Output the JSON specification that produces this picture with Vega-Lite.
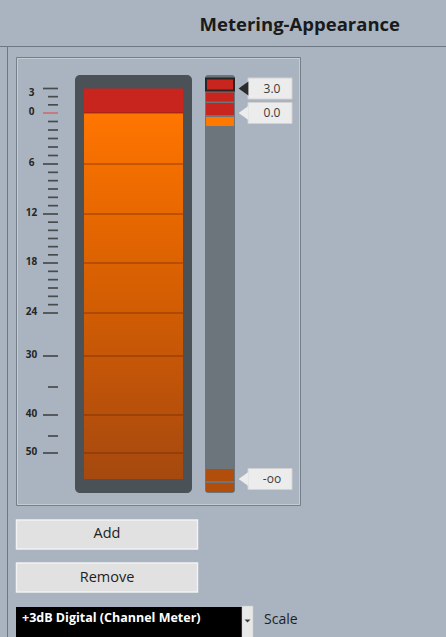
{
  "$schema": "https://vega.github.io/schema/vega-lite/v6.json",
  "width": 446,
  "height": 591,
  "autosize": "none",
  "padding": {"left": 0, "top": 46, "right": 0, "bottom": 0},
  "background": "#a9b4c0",
  "title": {"text": "Metering-Appearance", "anchor": "end", "frame": "group", "dx": -46, "dy": 19, "offset": 15, "baseline": "alphabetic", "font": "Open Sans", "fontSize": 18.5, "fontWeight": "bold", "color": "#1a1a1a"},
  "config": {"view": {"stroke": null}},
  "datasets": {
    "widgets": [
      {"widget": "header"}, {"widget": "window"}, {"widget": "panel"}, {"widget": "meter"}, {"widget": "strip"},
      {"widget": "button", "label": "Add"}, {"widget": "button", "label": "Remove"},
      {"widget": "combo", "label": "+3dB Digital (Channel Meter)"}, {"widget": "dropdown"}, {"widget": "caption", "label": "Scale"}
    ],
    "scale": [
      {"db": 3, "kind": "major", "label": "3"}, {"db": 2, "kind": "minor"}, {"db": 1, "kind": "minor"},
      {"db": 0, "kind": "major", "label": "0"},
      {"db": -1, "kind": "minor"}, {"db": -2, "kind": "minor"}, {"db": -3, "kind": "minor"}, {"db": -4, "kind": "minor"}, {"db": -5, "kind": "minor"},
      {"db": -6, "kind": "major", "label": "6"},
      {"db": -7, "kind": "minor"}, {"db": -8, "kind": "minor"}, {"db": -9, "kind": "minor"}, {"db": -10, "kind": "minor"}, {"db": -11, "kind": "minor"},
      {"db": -12, "kind": "major", "label": "12"},
      {"db": -13, "kind": "minor"}, {"db": -14, "kind": "minor"}, {"db": -15, "kind": "minor"}, {"db": -16, "kind": "minor"}, {"db": -17, "kind": "minor"},
      {"db": -18, "kind": "major", "label": "18"},
      {"db": -19, "kind": "minor"}, {"db": -20, "kind": "minor"}, {"db": -21, "kind": "minor"}, {"db": -22, "kind": "minor"}, {"db": -23, "kind": "minor"},
      {"db": -24, "kind": "major", "label": "24"},
      {"db": -30, "kind": "major", "label": "30"},
      {"db": -35, "kind": "minor"},
      {"db": -40, "kind": "major", "label": "40"},
      {"db": -45, "kind": "minor"},
      {"db": -50, "kind": "major", "label": "50"}
    ],
    "zones": [
      {"zone": "clip", "top": 3, "bottom": 0},
      {"zone": "signal", "top": 0, "bottom": -60}
    ],
    "handles": [
      {"db": 3, "label": "3.0", "above": "clip", "below": "clip", "selected": true},
      {"db": 0, "label": "0.0", "above": "clip", "below": "signal", "selected": false},
      {"db": -60, "label": "-oo", "above": "floor", "below": "floor", "selected": false}
    ]
  },
  "resolve": {"scale": {"x": "independent", "y": "independent", "color": "independent"}},
  "layer": [
    {
      "data": {"name": "widgets"},
      "transform": [{"filter": "datum.widget === 'header'"}],
      "mark": {"type": "rule", "stroke": "#6d7884", "strokeWidth": 1},
      "encoding": {"y": {"field": "widget", "type": "nominal", "scale": {"type": "band", "domain": ["header"], "range": [0.5, 0.5]}, "axis": null}}
    },
    {
      "data": {"name": "widgets"},
      "transform": [{"filter": "datum.widget === 'window'"}],
      "mark": {"type": "rule", "stroke": "#6d7884", "strokeWidth": 1},
      "encoding": {"x": {"field": "widget", "type": "nominal", "scale": {"type": "band", "domain": ["window"], "range": [7.5, 7.5]}, "axis": null}}
    },
    {
      "data": {"name": "widgets"},
      "transform": [{"filter": "datum.widget === 'panel'"}],
      "mark": {"type": "rect", "filled": false, "stroke": "#747f8a", "strokeWidth": 1},
      "encoding": {
        "x": {"field": "widget", "type": "nominal", "scale": {"type": "band", "domain": ["panel"], "range": [16.5, 300.5], "paddingInner": 0, "paddingOuter": 0}, "axis": null},
        "y": {"field": "widget", "type": "nominal", "scale": {"type": "band", "domain": ["panel"], "range": [11.5, 459.5], "paddingInner": 0, "paddingOuter": 0}, "axis": null}
      }
    },
    {
      "data": {"name": "widgets"},
      "transform": [{"filter": "datum.widget === 'panel'"}],
      "mark": {"type": "rect", "filled": false, "stroke": "#c3cbd3", "strokeWidth": 1},
      "encoding": {
        "x": {"field": "widget", "type": "nominal", "scale": {"type": "band", "domain": ["panel"], "range": [17.5, 299.5], "paddingInner": 0, "paddingOuter": 0}, "axis": null},
        "y": {"field": "widget", "type": "nominal", "scale": {"type": "band", "domain": ["panel"], "range": [12.5, 458.5], "paddingInner": 0, "paddingOuter": 0}, "axis": null}
      }
    },
    {
      "data": {"name": "widgets"},
      "transform": [{"filter": "datum.widget === 'meter'"}],
      "mark": {"type": "rect", "fill": "#4a5157", "cornerRadius": 5},
      "encoding": {
        "x": {"field": "widget", "type": "nominal", "scale": {"type": "band", "domain": ["meter"], "range": [75, 192], "paddingInner": 0, "paddingOuter": 0}, "axis": null},
        "y": {"field": "widget", "type": "nominal", "scale": {"type": "band", "domain": ["meter"], "range": [29, 447], "paddingInner": 0, "paddingOuter": 0}, "axis": null}
      }
    },
    {
      "data": {"name": "widgets"},
      "transform": [{"filter": "datum.widget === 'strip'"}],
      "mark": {"type": "rect", "fill": "#6c757c", "cornerRadius": 3},
      "encoding": {
        "x": {"field": "widget", "type": "nominal", "scale": {"type": "band", "domain": ["strip"], "range": [205, 235], "paddingInner": 0, "paddingOuter": 0}, "axis": null},
        "y": {"field": "widget", "type": "nominal", "scale": {"type": "band", "domain": ["strip"], "range": [29, 447], "paddingInner": 0, "paddingOuter": 0}, "axis": null}
      }
    },
    {
      "data": {"name": "zones"},
      "transform": [{"filter": "datum.zone === 'clip'"}],
      "mark": {"type": "rect", "fill": "#c9251f"},
      "encoding": {
        "x": {"datum": "meter", "type": "nominal", "scale": {"type": "band", "domain": ["meter"], "range": [84, 183], "paddingInner": 0, "paddingOuter": 0}, "axis": null},
        "y": {"field": "top", "type": "quantitative", "scale": {"type": "linear", "domain": [3, 0, -6, -12, -18, -24, -30, -35, -40, -45, -50, -60], "range": [42.5, 67, 118, 168, 217, 267, 310, 341, 369, 390, 407, 433], "nice": false, "zero": false}, "axis": null},
        "y2": {"field": "bottom"}
      }
    },
    {
      "data": {"name": "zones"},
      "transform": [{"filter": "datum.zone === 'signal'"}],
      "mark": {"type": "rect", "fill": {"gradient": "linear", "x1": 0, "y1": 0, "x2": 0, "y2": 1, "stops": [{"offset": 0, "color": "#ff7500"}, {"offset": 0.25, "color": "#ea6900"}, {"offset": 0.5, "color": "#d45e03"}, {"offset": 0.75, "color": "#be5309"}, {"offset": 1, "color": "#a5490f"}]}},
      "encoding": {
        "x": {"datum": "meter", "type": "nominal", "scale": {"type": "band", "domain": ["meter"], "range": [84, 183], "paddingInner": 0, "paddingOuter": 0}, "axis": null},
        "y": {"field": "top", "type": "quantitative", "scale": {"type": "linear", "domain": [3, 0, -6, -12, -18, -24, -30, -35, -40, -45, -50, -60], "range": [42.5, 67, 118, 168, 217, 267, 310, 341, 369, 390, 407, 433], "nice": false, "zero": false}, "axis": null},
        "y2": {"field": "bottom"}
      }
    },
    {
      "data": {"name": "scale"},
      "transform": [{"filter": "datum.kind === 'major' && datum.db <= 0"}],
      "mark": {"type": "tick", "orient": "horizontal", "size": 99, "thickness": 1.5, "color": "#6a2400", "opacity": 0.45},
      "encoding": {
        "x": {"datum": "meter", "type": "nominal", "scale": {"type": "band", "domain": ["meter"], "range": [84, 183], "paddingInner": 0, "paddingOuter": 0}, "axis": null},
        "y": {"field": "db", "type": "quantitative", "scale": {"type": "linear", "domain": [3, 0, -6, -12, -18, -24, -30, -35, -40, -45, -50, -60], "range": [42.5, 67, 118, 168, 217, 267, 310, 341, 369, 390, 407, 433], "nice": false, "zero": false}, "axis": null}
      }
    },
    {
      "data": {"name": "scale"},
      "transform": [{"filter": "datum.kind === 'major'"}],
      "mark": {"type": "tick", "orient": "horizontal", "size": 15, "thickness": 1.7},
      "encoding": {
        "x": {"datum": "major", "type": "nominal", "scale": {"type": "band", "domain": ["major"], "range": [43, 58], "paddingInner": 0, "paddingOuter": 0}, "axis": null},
        "y": {"field": "db", "type": "quantitative", "scale": {"type": "linear", "domain": [3, 0, -6, -12, -18, -24, -30, -35, -40, -45, -50, -60], "range": [42.5, 67, 118, 168, 217, 267, 310, 341, 369, 390, 407, 433], "nice": false, "zero": false}, "axis": null},
        "color": {"condition": {"test": "datum.db === 0", "value": "#d4535a"}, "value": "#1e1e1e"}
      }
    },
    {
      "data": {"name": "scale"},
      "transform": [{"filter": "datum.kind === 'minor'"}],
      "mark": {"type": "tick", "orient": "horizontal", "size": 10, "thickness": 1.7, "color": "#1e1e1e"},
      "encoding": {
        "x": {"datum": "minor", "type": "nominal", "scale": {"type": "band", "domain": ["minor"], "range": [48, 58], "paddingInner": 0, "paddingOuter": 0}, "axis": null},
        "y": {"field": "db", "type": "quantitative", "scale": {"type": "linear", "domain": [3, 0, -6, -12, -18, -24, -30, -35, -40, -45, -50, -60], "range": [42.5, 67, 118, 168, 217, 267, 310, 341, 369, 390, 407, 433], "nice": false, "zero": false}, "axis": null}
      }
    },
    {
      "data": {"name": "scale"},
      "transform": [{"filter": "datum.label && datum.db !== 3"}],
      "mark": {"type": "text", "font": "Open Sans", "fontSize": 10, "fontWeight": "bold", "color": "#262626", "align": "center", "baseline": "middle", "dy": -1.5},
      "encoding": {
        "x": {"datum": "label", "type": "nominal", "scale": {"type": "band", "domain": ["label"], "range": [26.5, 36.5], "paddingInner": 0, "paddingOuter": 0}, "axis": null},
        "y": {"field": "db", "type": "quantitative", "scale": {"type": "linear", "domain": [3, 0, -6, -12, -18, -24, -30, -35, -40, -45, -50, -60], "range": [42.5, 67, 118, 168, 217, 267, 310, 341, 369, 390, 407, 433], "nice": false, "zero": false}, "axis": null},
        "text": {"field": "label"}
      }
    },
    {
      "data": {"name": "scale"},
      "transform": [{"filter": "datum.db === 3"}],
      "mark": {"type": "text", "font": "Open Sans", "fontSize": 10, "fontWeight": "bold", "color": "#262626", "align": "center", "baseline": "middle", "dy": 4.5},
      "encoding": {
        "x": {"datum": "label", "type": "nominal", "scale": {"type": "band", "domain": ["label"], "range": [26.5, 36.5], "paddingInner": 0, "paddingOuter": 0}, "axis": null},
        "y": {"field": "db", "type": "quantitative", "scale": {"type": "linear", "domain": [3, 0, -6, -12, -18, -24, -30, -35, -40, -45, -50, -60], "range": [42.5, 67, 118, 168, 217, 267, 310, 341, 369, 390, 407, 433], "nice": false, "zero": false}, "axis": null},
        "text": {"field": "label"}
      }
    },
    {
      "data": {"name": "handles"},
      "mark": {"type": "rect", "yOffset": -10, "y2Offset": 2, "strokeWidth": 2},
      "encoding": {
        "x": {"datum": "strip", "type": "nominal", "scale": {"type": "band", "domain": ["strip"], "range": [206, 234], "paddingInner": 0, "paddingOuter": 0}, "axis": null},
        "y": {"field": "db", "type": "quantitative", "scale": {"type": "linear", "domain": [3, 0, -6, -12, -18, -24, -30, -35, -40, -45, -50, -60], "range": [42.5, 67, 118, 168, 217, 267, 310, 341, 369, 390, 407, 433], "nice": false, "zero": false}, "axis": null},
        "y2": {"field": "db"},
        "color": {"field": "above", "type": "nominal", "scale": {"domain": ["clip", "signal", "floor"], "range": ["#c9251f", "#ff7800", "#b14e0c"]}, "legend": null},
        "stroke": {"condition": {"test": "datum.selected", "value": "#262626"}, "value": "transparent"}
      }
    },
    {
      "data": {"name": "handles"},
      "mark": {"type": "rect", "yOffset": 4, "y2Offset": 13},
      "encoding": {
        "x": {"datum": "strip", "type": "nominal", "scale": {"type": "band", "domain": ["strip"], "range": [206, 234], "paddingInner": 0, "paddingOuter": 0}, "axis": null},
        "y": {"field": "db", "type": "quantitative", "scale": {"type": "linear", "domain": [3, 0, -6, -12, -18, -24, -30, -35, -40, -45, -50, -60], "range": [42.5, 67, 118, 168, 217, 267, 310, 341, 369, 390, 407, 433], "nice": false, "zero": false}, "axis": null},
        "y2": {"field": "db"},
        "color": {"field": "below", "type": "nominal", "scale": {"domain": ["clip", "signal", "floor"], "range": ["#c9251f", "#ff7800", "#b14e0c"]}, "legend": null}
      }
    },
    {
      "data": {"name": "handles"},
      "mark": {"type": "rect", "yOffset": -10.5, "y2Offset": 10.5, "fill": "#ececec", "stroke": "#d2d2d2", "strokeWidth": 1},
      "encoding": {
        "x": {"datum": "tag", "type": "nominal", "scale": {"type": "band", "domain": ["tag"], "range": [248, 292], "paddingInner": 0, "paddingOuter": 0}, "axis": null},
        "y": {"field": "db", "type": "quantitative", "scale": {"type": "linear", "domain": [3, 0, -6, -12, -18, -24, -30, -35, -40, -45, -50, -60], "range": [42.5, 67, 118, 168, 217, 267, 310, 341, 369, 390, 407, 433], "nice": false, "zero": false}, "axis": null},
        "y2": {"field": "db"}
      }
    },
    {
      "data": {"name": "handles"},
      "mark": {"type": "point", "filled": true, "shape": "M0.7,-1L-0.7,0L0.7,1Z", "size": 196, "opacity": 1},
      "encoding": {
        "x": {"datum": "pointer", "type": "nominal", "scale": {"type": "band", "domain": ["pointer"], "range": [238.5, 248.5], "paddingInner": 0, "paddingOuter": 0}, "axis": null},
        "y": {"field": "db", "type": "quantitative", "scale": {"type": "linear", "domain": [3, 0, -6, -12, -18, -24, -30, -35, -40, -45, -50, -60], "range": [42.5, 67, 118, 168, 217, 267, 310, 341, 369, 390, 407, 433], "nice": false, "zero": false}, "axis": null},
        "color": {"condition": {"test": "datum.selected", "value": "#2b2b2b"}, "value": "#ececec"}
      }
    },
    {
      "data": {"name": "handles"},
      "mark": {"type": "text", "font": "Open Sans", "fontSize": 12, "color": "#3a3a3a", "align": "center", "baseline": "middle", "dx": 2},
      "encoding": {
        "x": {"datum": "tag", "type": "nominal", "scale": {"type": "band", "domain": ["tag"], "range": [248, 292], "paddingInner": 0, "paddingOuter": 0}, "axis": null},
        "y": {"field": "db", "type": "quantitative", "scale": {"type": "linear", "domain": [3, 0, -6, -12, -18, -24, -30, -35, -40, -45, -50, -60], "range": [42.5, 67, 118, 168, 217, 267, 310, 341, 369, 390, 407, 433], "nice": false, "zero": false}, "axis": null},
        "text": {"field": "label"}
      }
    },
    {
      "data": {"name": "widgets"},
      "transform": [{"filter": "datum.widget === 'button'"}],
      "mark": {"type": "rect", "fill": "#e1e1e1", "stroke": "#f2f2f2", "strokeWidth": 1.5},
      "encoding": {
        "x": {"field": "widget", "type": "nominal", "scale": {"type": "band", "domain": ["button"], "range": [16.5, 197.5], "paddingInner": 0, "paddingOuter": 0}, "axis": null},
        "y": {"field": "label", "type": "nominal", "scale": {"type": "band", "domain": ["Add", "Remove"], "range": [474, 546], "paddingInner": 0.3256, "paddingOuter": 0}, "axis": null}
      }
    },
    {
      "data": {"name": "widgets"},
      "transform": [{"filter": "datum.widget === 'button'"}],
      "mark": {"type": "text", "font": "Open Sans", "fontSize": 14.5, "color": "#1e1e1e", "align": "center", "baseline": "middle"},
      "encoding": {
        "x": {"field": "widget", "type": "nominal", "scale": {"type": "band", "domain": ["button"], "range": [16, 198], "paddingInner": 0, "paddingOuter": 0}, "axis": null},
        "y": {"field": "label", "type": "nominal", "scale": {"type": "band", "domain": ["Add", "Remove"], "range": [474, 546], "paddingInner": 0.3256, "paddingOuter": 0}, "axis": null},
        "text": {"field": "label"}
      }
    },
    {
      "data": {"name": "widgets"},
      "transform": [{"filter": "datum.widget === 'combo'"}],
      "mark": {"type": "rect", "fill": "#000000"},
      "encoding": {
        "x": {"field": "widget", "type": "nominal", "scale": {"type": "band", "domain": ["combo"], "range": [16, 242], "paddingInner": 0, "paddingOuter": 0}, "axis": null},
        "y": {"field": "widget", "type": "nominal", "scale": {"type": "band", "domain": ["combo"], "range": [561, 592], "paddingInner": 0, "paddingOuter": 0}, "axis": null}
      }
    },
    {
      "data": {"name": "widgets"},
      "transform": [{"filter": "datum.widget === 'combo'"}],
      "mark": {"type": "text", "font": "Open Sans", "fontSize": 12.5, "fontWeight": "bold", "color": "#ffffff", "align": "left", "baseline": "middle"},
      "encoding": {
        "x": {"field": "widget", "type": "nominal", "scale": {"type": "band", "domain": ["combo"], "range": [22, 22], "paddingInner": 0, "paddingOuter": 0}, "axis": null},
        "y": {"field": "widget", "type": "nominal", "scale": {"type": "band", "domain": ["combo"], "range": [572, 572], "paddingInner": 0, "paddingOuter": 0}, "axis": null},
        "text": {"field": "label"}
      }
    },
    {
      "data": {"name": "widgets"},
      "transform": [{"filter": "datum.widget === 'dropdown'"}],
      "mark": {"type": "rect", "fill": "#e8e8e8", "stroke": "#c8c8c8", "strokeWidth": 0.5},
      "encoding": {
        "x": {"field": "widget", "type": "nominal", "scale": {"type": "band", "domain": ["dropdown"], "range": [242, 253], "paddingInner": 0, "paddingOuter": 0}, "axis": null},
        "y": {"field": "widget", "type": "nominal", "scale": {"type": "band", "domain": ["dropdown"], "range": [560, 592], "paddingInner": 0, "paddingOuter": 0}, "axis": null}
      }
    },
    {
      "data": {"name": "widgets"},
      "transform": [{"filter": "datum.widget === 'dropdown'"}],
      "mark": {"type": "point", "filled": true, "shape": "M-1,-0.5L1,-0.5L0,0.5Z", "size": 36, "color": "#3c3c3c", "opacity": 1},
      "encoding": {
        "x": {"field": "widget", "type": "nominal", "scale": {"type": "band", "domain": ["dropdown"], "range": [247.5, 247.5], "paddingInner": 0, "paddingOuter": 0}, "axis": null},
        "y": {"field": "widget", "type": "nominal", "scale": {"type": "band", "domain": ["dropdown"], "range": [575, 575], "paddingInner": 0, "paddingOuter": 0}, "axis": null}
      }
    },
    {
      "data": {"name": "widgets"},
      "transform": [{"filter": "datum.widget === 'caption'"}],
      "mark": {"type": "text", "font": "Open Sans", "fontSize": 14, "color": "#1e1e1e", "align": "left", "baseline": "middle"},
      "encoding": {
        "x": {"field": "widget", "type": "nominal", "scale": {"type": "band", "domain": ["caption"], "range": [264, 264], "paddingInner": 0, "paddingOuter": 0}, "axis": null},
        "y": {"field": "widget", "type": "nominal", "scale": {"type": "band", "domain": ["caption"], "range": [574, 574], "paddingInner": 0, "paddingOuter": 0}, "axis": null},
        "text": {"field": "label"}
      }
    }
  ]
}
